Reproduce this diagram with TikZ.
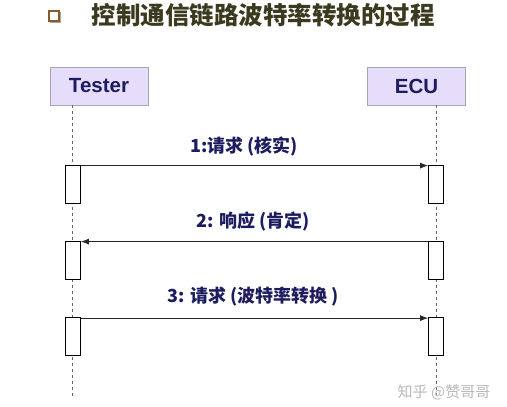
\documentclass[tikz,border=0pt]{standalone}
\usepackage{fontspec}
\setmainfont{Liberation Sans}
\newfontfamily\cjk{Noto Sans CJK SC}
\usetikzlibrary{arrows.meta,positioning}
\definecolor{boxfill}{HTML}{E6DDFB}
\definecolor{boxline}{HTML}{A8A4B8}
\definecolor{navy}{HTML}{1C1C5E}
\definecolor{olive}{HTML}{3B3A1E}
\definecolor{bullet}{HTML}{8A5A2E}
\tikzset{
	actor/.style={draw=boxline,fill=boxfill,minimum width=98pt,minimum height=38pt,
		inner sep=0pt,text=navy,font=\fontsize{20.5}{20}\selectfont\bfseries},
	actbox/.style={draw,thick,fill=white,minimum width=15pt,minimum height=38pt,inner sep=0pt},
	lifeline/.style={dashed,gray!80!black,thin},
	msg/.style={-{Latex[length=8pt,width=6pt]},thick,black!85},
	msglabel/.style={text=navy,font=\fontsize{18}{18}\selectfont\cjk\bfseries}
}
\begin{document}
\begin{tikzpicture}[x=1pt,y=-1pt]
			\useasboundingbox (0,0) rectangle (507,407);
			% title
			\fill[black!35] (50,12) rectangle (61,23);
			\node[draw=bullet,fill=white,minimum size=10pt,inner sep=0pt,line width=1.2pt] (bul) at (54,16) {};
			\node[anchor=west,text=olive,font=\fontsize{24.5}{25}\selectfont\cjk\bfseries] (title) at (88,15) {控制通信链路波特率转换的过程};
			% actors
			\node[actor] (tester) at (99,86) {Tester};
			\node[actor] (ecu) at (416.5,86) {ECU};
			\coordinate (tend) at (72,398);
			\coordinate (eend) at (436,398);
			\draw[lifeline] (tester.south -| tend) -- (tend);
			\draw[lifeline] (ecu.south -| eend) -- (eend);
			% activations
			\node[actbox] (t1) at (73,184) {};
			\node[actbox] (e1) at (436,184) {};
			\node[actbox] (t2) at (73,260) {};
			\node[actbox] (e2) at (436,260) {};
			\node[actbox] (t3) at (73,336.5) {};
			\node[actbox] (e3) at (436,336.5) {};
			% messages
			\draw[msg] ([yshift=-1pt]t1.north east) -- ([yshift=-1pt]e1.north west);
			\draw[msg] ([yshift=-1pt]e2.north west) -- ([yshift=-1pt]t2.north east);
			\draw[msg] ([yshift=-1pt]t3.north east) -- ([yshift=-1pt]e3.north west);
			\path
			(244,147) node[msglabel] (m1) {1:请求 (核实)}
			(253,222) node[msglabel] (m2) {2: 响应 (肯定)}
			(253,297) node[msglabel] (m3) {3: 请求 (波特率转换 )}
			;
			\node[text=gray!55,font=\fontsize{15}{15}\selectfont\cjk] (mark) at (444,392) {知乎 @赞哥哥};
		\end{tikzpicture}
\end{document}
